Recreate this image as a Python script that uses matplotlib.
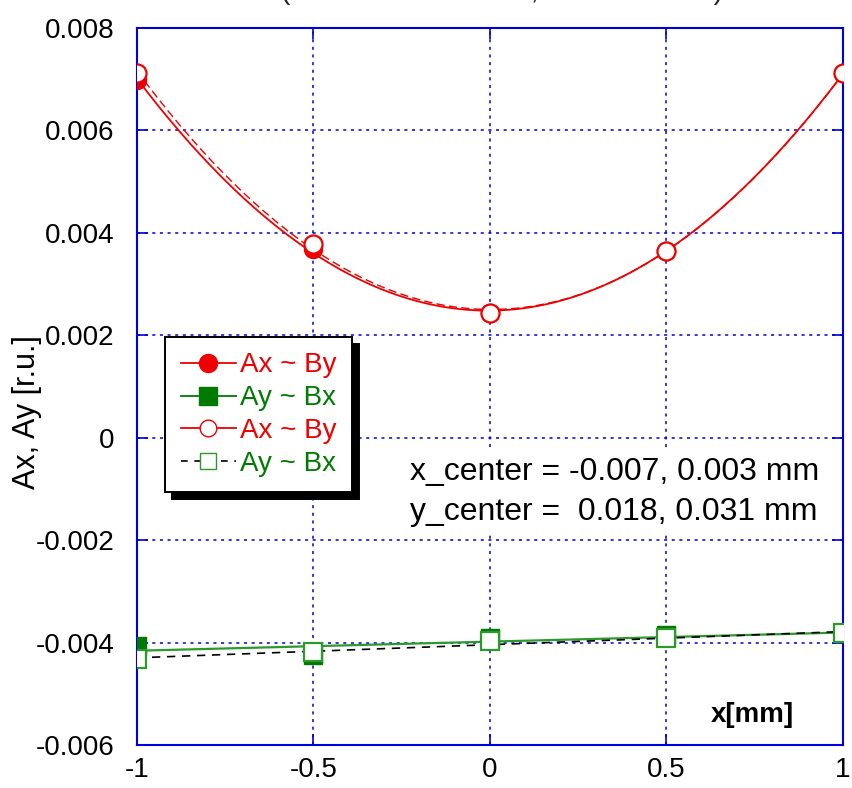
import matplotlib

matplotlib.use("Agg")
import matplotlib.pyplot as plt
import numpy as np

plt.rcParams["font.family"] = ["Liberation Sans", "DejaVu Sans"]

# x positions of the scan [mm]
X_POS = [-1.0, -0.5, 0.0, 0.5, 1.0]

# Ax ~ By (filled) and (open)
AX_BY_1 = [0.00698, 0.00368, 0.00243, 0.00364, 0.00712]
AX_BY_2 = [0.00712, 0.00378, 0.00243, 0.00364, 0.00712]

# Ay ~ Bx (filled) and (open)
AY_BX_1 = [-0.00407, -0.00425, -0.00391, -0.00386, -0.00382]
AY_BX_2 = [-0.00432, -0.00419, -0.00397, -0.00391, -0.00382]

CENTER_TEXT = "x_center = -0.007, 0.003 mm\ny_center =  0.018, 0.031 mm"

RED = "#ee0000"
GREEN = "#007a00"
GREEN_LINE = "#2a9a2a"
BLUE = "#0000dd"
FS = 20

fig = plt.figure(figsize=(8.52, 7.88), dpi=100)
ax = fig.add_axes([0.1608, 0.0546, 0.8286, 0.9099])

xs = np.array(X_POS)
xfit = np.linspace(-1, 1, 200)

# fitted curves (quadratic for Ax~By, linear for Ay~Bx)
p1 = np.poly1d(np.polyfit(xs, AX_BY_1, 2))
p2 = np.poly1d(np.polyfit(xs, AX_BY_2, 2))
q1 = np.poly1d(np.polyfit(xs, AY_BX_1, 1))
q2 = np.poly1d(np.polyfit(xs, AY_BX_2, 1))

ax.plot(xfit, p1(xfit), "-", color=RED, lw=1.3, zorder=3)
ax.plot(xfit, p2(xfit), "--", color=RED, lw=1.0, dashes=(6, 3), zorder=3)
ax.plot(xfit, q1(xfit), "-", color=GREEN_LINE, lw=1.6, zorder=3)
ax.plot(xfit, q2(xfit), "--", color="black", lw=1.2, dashes=(5, 4), zorder=3)

ax.plot(xs, AX_BY_1, "o", color=RED, ms=13, zorder=4)
ax.plot(xs, AY_BX_1, "s", color=GREEN, ms=13, zorder=4)
ax.plot(xs, AX_BY_2, "o", mfc="white", mec=RED, mew=1.6, ms=13, zorder=5)
ax.plot(xs, AY_BX_2, "s", mfc="white", mec=GREEN_LINE, mew=1.6, ms=13, zorder=5)

# legend handles
h1, = ax.plot([], [], "-o", color=RED, ms=13, lw=1.3)
h2, = ax.plot([], [], "-s", color=GREEN, ms=13, lw=1.3)
h3, = ax.plot([], [], "-o", color=RED, mfc="white", mec=RED, ms=12, lw=1.3)
h4, = ax.plot([], [], "--s", color="black", mfc="white", mec=GREEN_LINE,
              ms=12, lw=1.2, dashes=(4, 4))
leg = ax.legend([h1, h2, h3, h4], ["Ax ~ By", "Ay ~ Bx", "Ax ~ By", "Ay ~ Bx"],
                loc="upper left", bbox_to_anchor=(0.04, 0.569), borderaxespad=0,
                fontsize=FS, fancybox=False, framealpha=1, edgecolor="black",
                handlelength=2.0, handletextpad=0.15, labelspacing=0.25,
                borderpad=0.55,
                shadow={"ox": 5, "oy": -5, "facecolor": "black",
                        "edgecolor": "black", "alpha": 1})
leg.get_frame().set_linewidth(1.4)
for txt, c in zip(leg.get_texts(), [RED, GREEN, RED, GREEN]):
    txt.set_color(c)

ax.text(0.387, 0.353, CENTER_TEXT, transform=ax.transAxes, fontsize=23,
        ha="left", va="center", linespacing=1.45, zorder=6,
        bbox=dict(facecolor="white", edgecolor="none", pad=5))

ax.text(0.871, 0.042, "x[mm]", transform=ax.transAxes, fontsize=FS,
        fontweight="bold", ha="center", va="center")

fig.text(27 / 852, 0.477, "Ax, Ay [r.u.]", rotation=90, fontsize=22,
         ha="center", va="center")

# title mostly above the figure edge
fig.text(281 / 852, 1.001, "(horizontal scan at 0, BPM B1 + B2)", fontsize=FS,
         ha="left", va="baseline", color="#222222")

ax.set_xlim(-1, 1)
ax.set_ylim(-0.006, 0.008)
ax.set_xticks([-1, -0.5, 0, 0.5, 1])
ax.set_xticklabels(["-1", "-0.5", "0", "0.5", "1"])
ax.set_yticks([-0.006, -0.004, -0.002, 0, 0.002, 0.004, 0.006, 0.008])
ax.set_yticklabels(["-0.006", "-0.004", "-0.002", "0", "0.002", "0.004",
                    "0.006", "0.008"])
ax.tick_params(direction="in", length=8, width=1.2, color=BLUE,
               labelsize=FS, top=True, right=True)
ax.tick_params(axis="x", pad=9)
ax.tick_params(axis="y", pad=16)
for s in ax.spines.values():
    s.set_color(BLUE)
    s.set_linewidth(1.5)
ax.grid(True, color=BLUE, ls=(0, (2, 3)), lw=1.1)

fig.savefig("out.png", dpi=100)
